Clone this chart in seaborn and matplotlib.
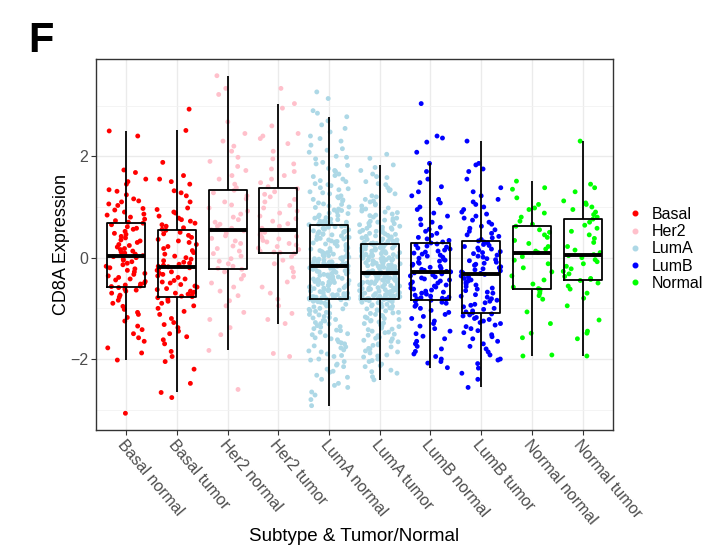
import numpy as np
import pandas as pd
import matplotlib
matplotlib.use("Agg")
import matplotlib.pyplot as plt
from matplotlib.lines import Line2D
import seaborn as sns

groups = ["Basal normal", "Basal tumor", "Her2 normal", "Her2 tumor",
          "LumA normal", "LumA tumor", "LumB normal", "LumB tumor",
          "Normal normal", "Normal tumor"]
subtypes = ["Basal", "Her2", "LumA", "LumB", "Normal"]
colors = ["red", "pink", "lightblue", "blue", "#00FF00"]

# CD8A expression values (approximate)
basal_normal = [
    2.50, 2.40, 1.73, 1.68, 1.55, 1.50, 1.45, 1.34, 1.31, 1.24, 1.16, 1.12,
    1.10, 1.06, 1.03, 0.97, 0.94, 0.90, 0.86, 0.84, 0.80, 0.76, 0.73, 0.70,
    0.68, 0.65, 0.61, 0.58, 0.56, 0.52, 0.48, 0.46, 0.42, 0.39, 0.35, 0.33,
    0.30, 0.26, 0.24, 0.21, 0.18, 0.16, 0.13, 0.11, 0.09, 0.07, 0.05, 0.04,
    0.02, 0.00, -0.03, -0.05, -0.08, -0.11, -0.14, -0.17, -0.20, -0.22, -0.25, -0.28,
    -0.31, -0.33, -0.36, -0.39, -0.42, -0.44, -0.47, -0.50, -0.52, -0.54, -0.56, -0.57,
    -0.59, -0.62, -0.64, -0.66, -0.70, -0.74, -0.78, -0.84, -0.90, -0.96, -1.02, -1.08,
    -1.12, -1.18, -1.25, -1.35, -1.42, -1.50, -1.58, -1.65, -1.78, -1.88, -2.02, -3.07,
]
basal_tumor = [
    2.93, 2.51, 1.88, 1.62, 1.55, 1.50, 1.45, 1.32, 1.28, 1.22, 1.10, 0.98,
    0.95, 0.90, 0.88, 0.82, 0.78, 0.75, 0.72, 0.68, 0.65, 0.62, 0.59, 0.56,
    0.54, 0.50, 0.47, 0.44, 0.40, 0.36, 0.33, 0.30, 0.26, 0.22, 0.18, 0.14,
    0.10, 0.07, 0.03, 0.00, -0.03, -0.06, -0.09, -0.11, -0.13, -0.15, -0.17, -0.18,
    -0.20, -0.22, -0.25, -0.28, -0.31, -0.33, -0.36, -0.39, -0.42, -0.45, -0.48, -0.50,
    -0.53, -0.56, -0.58, -0.61, -0.63, -0.66, -0.68, -0.70, -0.72, -0.74, -0.76, -0.77,
    -0.79, -0.82, -0.86, -0.90, -0.95, -1.00, -1.06, -1.12, -1.20, -1.28, -1.32, -1.38,
    -1.45, -1.50, -1.56, -1.62, -1.70, -1.85, -1.95, -2.05, -2.20, -2.48, -2.66, -2.76,
]
her2_normal = [
    3.59, 3.34, 3.22, 2.68, 2.45, 2.30, 2.20, 2.10,
    1.98, 1.90, 1.80, 1.72, 1.62, 1.55, 1.45, 1.38,
    1.33, 1.28, 1.22, 1.16, 1.10, 1.04, 0.98, 0.92,
    0.86, 0.80, 0.75, 0.70, 0.66, 0.62, 0.58, 0.55,
    0.53, 0.48, 0.43, 0.38, 0.33, 0.28, 0.23, 0.18,
    0.13, 0.08, 0.03, -0.02, -0.07, -0.12, -0.17, -0.21,
    -0.23, -0.28, -0.35, -0.42, -0.50, -0.58, -0.66, -0.75,
    -0.85, -0.95, -1.08, -1.22, -1.38, -1.52, -1.83, -2.60,
]
her2_tumor = [
    3.34, 3.04, 2.95, 2.60, 2.45, 2.40, 2.35, 2.25, 2.10, 1.95, 1.85, 1.75, 1.70, 1.62, 1.55, 1.48, 1.40,
    1.36, 1.30, 1.25, 1.20, 1.15, 1.10, 1.03, 0.98, 0.92, 0.88, 0.82, 0.77, 0.72, 0.67, 0.62, 0.58, 0.55,
    0.53, 0.50, 0.47, 0.45, 0.42, 0.40, 0.37, 0.34, 0.31, 0.28, 0.25, 0.22, 0.19, 0.16, 0.13, 0.11, 0.10,
    0.08, 0.02, -0.05, -0.12, -0.20, -0.28, -0.38, -0.48, -0.58, -0.70, -0.82, -0.95, -1.10, -1.22, -1.30, -1.89, -1.95,
]
luma_normal = [
    3.27, 3.14, 2.90, 2.85, 2.78, 2.62, 2.55, 2.48, 2.40, 2.30,
    2.22, 2.15, 2.08, 2.00, 1.95, 1.88, 1.82, 1.76, 1.70, 1.65,
    1.60, 1.55, 1.50, 1.46, 1.42, 1.38, 1.34, 1.30, 1.26, 1.22,
    1.18, 1.15, 1.12, 1.08, 1.05, 1.02, 0.99, 0.96, 0.93, 0.90,
    0.87, 0.84, 0.81, 0.78, 0.76, 0.73, 0.71, 0.69, 0.67, 0.65,
    2.70, 2.35, 2.12, 1.98, 1.85, 1.72, 1.62, 1.52, 1.44, 1.36,
    1.28, 1.20, 1.14, 1.06, 1.00, 0.94, 0.88, 0.83, 0.79, 0.75,
    0.72, 0.70, 0.68, 0.66, 0.655,
    0.63, 0.62, 0.60, 0.58, 0.57, 0.55, 0.53, 0.52, 0.50, 0.48,
    0.47, 0.45, 0.43, 0.41, 0.40, 0.38, 0.36, 0.35, 0.33, 0.31,
    0.29, 0.28, 0.26, 0.24, 0.22, 0.21, 0.19, 0.17, 0.15, 0.14,
    0.12, 0.10, 0.08, 0.07, 0.05, 0.03, 0.02, 0.00, -0.02, -0.03,
    -0.05, -0.07, -0.08, -0.09, -0.10, -0.11, -0.12, -0.13, -0.14, -0.15,
    0.61, 0.56, 0.51, 0.46, 0.42, 0.37, 0.32, 0.27, 0.23, 0.18,
    0.13, 0.09, 0.04, 0.01, -0.01, -0.04, -0.06, -0.09, -0.11, -0.12,
    -0.13, -0.14, -0.15, -0.15, -0.155,
    -0.17, -0.18, -0.19, -0.20, -0.22, -0.23, -0.24, -0.26, -0.27, -0.28,
    -0.30, -0.31, -0.33, -0.34, -0.35, -0.37, -0.38, -0.40, -0.41, -0.42,
    -0.44, -0.45, -0.47, -0.48, -0.49, -0.51, -0.52, -0.54, -0.55, -0.56,
    -0.58, -0.59, -0.61, -0.62, -0.63, -0.65, -0.66, -0.68, -0.69, -0.70,
    -0.72, -0.73, -0.74, -0.75, -0.76, -0.77, -0.78, -0.79, -0.80, -0.80,
    -0.165, -0.21, -0.25, -0.29, -0.32, -0.36, -0.39, -0.43, -0.46, -0.50,
    -0.53, -0.57, -0.60, -0.64, -0.67, -0.71, -0.73, -0.75, -0.76, -0.77,
    -0.78, -0.79, -0.80, -0.805, -0.805,
    -0.82, -0.84, -0.86, -0.88, -0.90, -0.92, -0.95, -0.97, -1.00, -1.02,
    -1.05, -1.08, -1.10, -1.13, -1.16, -1.19, -1.22, -1.25, -1.28, -1.31,
    -1.34, -1.37, -1.40, -1.44, -1.47, -1.50, -1.54, -1.58, -1.62, -1.66,
    -1.70, -1.74, -1.78, -1.82, -1.86, -1.90, -1.95, -2.00, -2.05, -2.10,
    -2.15, -2.20, -2.26, -2.32, -2.40, -2.48, -2.56, -2.71, -2.80, -2.92,
    -0.815, -0.83, -0.87, -0.91, -0.96, -1.01, -1.06, -1.12, -1.18, -1.24,
    -1.30, -1.36, -1.43, -1.52, -1.60, -1.68, -1.76, -1.84, -1.93, -2.02,
    -2.12, -2.24, -2.36, -2.52, -2.65,
]
luma_tumor = [
    2.04, 1.96, 1.83, 1.72, 1.65, 1.58, 1.50, 1.44, 1.38, 1.32,
    1.26, 1.20, 1.15, 1.10, 1.06, 1.02, 0.98, 0.95, 0.92, 0.89,
    0.86, 0.83, 0.80, 0.77, 0.74, 0.72, 0.70, 0.67, 0.65, 0.62,
    0.60, 0.58, 0.56, 0.54, 0.52, 0.50, 0.48, 0.46, 0.44, 0.42,
    0.40, 0.39, 0.37, 0.36, 0.34, 0.33, 0.31, 0.30, 0.29, 0.28,
    1.78, 1.60, 1.46, 1.34, 1.22, 1.12, 1.04, 0.96, 0.90, 0.84,
    0.78, 0.73, 0.68, 0.63, 0.59, 0.55, 0.51, 0.47, 0.43, 0.41,
    0.38, 0.35, 0.32, 0.30, 0.28,
    0.26, 0.25, 0.24, 0.23, 0.22, 0.20, 0.19, 0.18, 0.17, 0.16,
    0.14, 0.13, 0.12, 0.11, 0.10, 0.08, 0.07, 0.06, 0.05, 0.04,
    0.02, 0.01, 0.00, -0.01, -0.02, -0.04, -0.05, -0.06, -0.07, -0.08,
    -0.10, -0.11, -0.12, -0.13, -0.14, -0.16, -0.17, -0.18, -0.19, -0.20,
    -0.22, -0.23, -0.24, -0.25, -0.26, -0.27, -0.28, -0.29, -0.30, -0.30,
    0.265, 0.23, 0.21, 0.185, 0.15, 0.125, 0.09, 0.065, 0.03, 0.00,
    -0.03, -0.055, -0.09, -0.115, -0.15, -0.175, -0.21, -0.235, -0.26, -0.28,
    -0.29, -0.295, -0.30, -0.305, -0.305,
    -0.32, -0.33, -0.34, -0.35, -0.36, -0.37, -0.38, -0.39, -0.40, -0.41,
    -0.42, -0.44, -0.45, -0.46, -0.47, -0.48, -0.49, -0.50, -0.51, -0.52,
    -0.53, -0.54, -0.55, -0.56, -0.57, -0.59, -0.60, -0.61, -0.62, -0.63,
    -0.64, -0.65, -0.66, -0.67, -0.68, -0.70, -0.71, -0.72, -0.73, -0.74,
    -0.75, -0.76, -0.77, -0.78, -0.78, -0.79, -0.80, -0.80, -0.81, -0.81,
    -0.315, -0.33, -0.36, -0.39, -0.42, -0.45, -0.48, -0.51, -0.54, -0.57,
    -0.60, -0.63, -0.66, -0.69, -0.71, -0.73, -0.75, -0.76, -0.77, -0.78,
    -0.79, -0.80, -0.81, -0.815, -0.815,
    -0.83, -0.85, -0.87, -0.89, -0.91, -0.93, -0.95, -0.97, -0.99, -1.01,
    -1.03, -1.05, -1.08, -1.10, -1.12, -1.15, -1.17, -1.20, -1.22, -1.25,
    -1.27, -1.30, -1.33, -1.36, -1.39, -1.42, -1.45, -1.48, -1.51, -1.54,
    -1.57, -1.60, -1.63, -1.66, -1.70, -1.73, -1.76, -1.80, -1.84, -1.88,
    -1.92, -1.96, -2.00, -2.05, -2.10, -2.15, -2.22, -2.28, -2.35, -2.41,
    -0.825, -0.84, -0.88, -0.92, -0.96, -1.00, -1.04, -1.09, -1.14, -1.19,
    -1.24, -1.29, -1.35, -1.41, -1.47, -1.53, -1.59, -1.65, -1.72, -1.79,
    -1.86, -1.94, -2.03, -2.13, -2.25,
]
lumb_normal = [
    3.04, 2.40, 2.36, 2.28, 2.08, 1.86, 1.70, 1.55, 1.48, 1.40,
    1.30, 1.22, 1.15, 1.08, 1.00, 0.95, 0.88, 0.82, 0.76, 0.70,
    0.65, 0.60, 0.56, 0.52, 0.48, 0.44, 0.40, 0.37, 0.34, 0.31,
    0.29, 0.27, 0.25, 0.23, 0.21, 0.19, 0.17, 0.15, 0.13, 0.11,
    0.09, 0.07, 0.05, 0.03, 0.01, -0.01, -0.03, -0.05, -0.07, -0.09,
    -0.11, -0.13, -0.15, -0.17, -0.19, -0.21, -0.23, -0.25, -0.27, -0.28,
    -0.30, -0.32, -0.34, -0.36, -0.38, -0.40, -0.42, -0.44, -0.46, -0.48,
    -0.50, -0.52, -0.54, -0.56, -0.58, -0.60, -0.62, -0.64, -0.66, -0.68,
    -0.70, -0.72, -0.74, -0.76, -0.78, -0.79, -0.80, -0.81, -0.82, -0.84,
    -0.86, -0.88, -0.90, -0.93, -0.96, -1.00, -1.04, -1.08, -1.12, -1.16,
    -1.20, -1.25, -1.30, -1.35, -1.40, -1.45, -1.50, -1.55, -1.60, -1.65,
    -1.70, -1.75, -1.80, -1.85, -1.90, -1.95, -2.00, -2.05, -2.08, -2.17,
]
lumb_tumor = [
    2.30, 1.86, 1.83, 1.75, 1.70, 1.55, 1.38, 1.30, 1.22, 1.15,
    1.10, 1.05, 1.00, 0.95, 0.90, 0.86, 0.82, 0.78, 0.74, 0.70,
    0.66, 0.62, 0.58, 0.55, 0.52, 0.48, 0.45, 0.42, 0.39, 0.36,
    0.33, 0.31, 0.29, 0.26, 0.24, 0.22, 0.19, 0.17, 0.15, 0.12,
    0.10, 0.08, 0.05, 0.03, 0.01, -0.02, -0.04, -0.06, -0.09, -0.11,
    -0.13, -0.15, -0.18, -0.20, -0.22, -0.24, -0.26, -0.28, -0.30, -0.31,
    -0.33, -0.36, -0.38, -0.41, -0.44, -0.46, -0.49, -0.52, -0.54, -0.57,
    -0.60, -0.62, -0.65, -0.68, -0.70, -0.73, -0.76, -0.78, -0.81, -0.84,
    -0.86, -0.89, -0.92, -0.94, -0.97, -1.00, -1.02, -1.05, -1.07, -1.09,
    -1.11, -1.13, -1.15, -1.18, -1.20, -1.22, -1.25, -1.28, -1.30, -1.33,
    -1.36, -1.40, -1.44, -1.48, -1.52, -1.56, -1.60, -1.65, -1.70, -1.75,
    -1.80, -1.86, -1.92, -2.00, -2.02, -2.09, -2.18, -2.28, -2.40, -2.56,
]
normal_normal = [
    1.51, 1.38, 1.35, 1.18, 1.05, 0.98, 0.95, 0.88, 0.80, 0.72, 0.66,
    0.62, 0.55, 0.50, 0.45, 0.40, 0.34, 0.28, 0.22, 0.17, 0.13, 0.10,
    0.08, 0.02, -0.05, -0.12, -0.20, -0.28, -0.36, -0.44, -0.52, -0.58, -0.61,
    -0.63, -0.66, -0.70, -0.75, -0.82, -1.07, -1.30, -1.49, -1.58, -1.92, -1.94,
]
normal_tumor = [
    2.30, 1.45, 1.38, 1.30, 1.12, 1.08, 1.05, 1.00, 0.95, 0.90, 0.85, 0.80,
    0.76, 0.70, 0.64, 0.58, 0.52, 0.45, 0.38, 0.30, 0.22, 0.15, 0.10, 0.06,
    0.04, 0.00, -0.04, -0.08, -0.12, -0.17, -0.22, -0.27, -0.32, -0.37, -0.41, -0.43,
    -0.45, -0.50, -0.56, -0.62, -0.70, -0.80, -0.95, -1.23, -1.45, -1.49, -1.60, -1.94,
]

values = [basal_normal, basal_tumor, her2_normal, her2_tumor, luma_normal,
          luma_tumor, lumb_normal, lumb_tumor, normal_normal, normal_tumor]

frames = []
for g, v in zip(groups, values):
    frames.append(pd.DataFrame({"group": g, "subtype": g.split()[0], "value": v}))
df = pd.concat(frames, ignore_index=True)

plt.rcParams['font.family'] = ['Liberation Sans', 'DejaVu Sans']
np.random.seed(7)

fig = plt.figure(figsize=(7.12, 5.58), dpi=100)
ax = fig.add_axes([0.1348, 0.2294, 0.7261, 0.6649])

palette = dict(zip(subtypes, colors))
sns.stripplot(data=df, x="group", y="value", hue="subtype", order=groups,
              hue_order=subtypes, palette=palette, jitter=0.4, size=3.5,
              linewidth=0, legend=False, ax=ax, zorder=1)
sns.boxplot(data=df, x="group", y="value", order=groups, fill=False,
            color="black", width=0.75, showfliers=False, showcaps=False,
            linewidth=1.3, medianprops=dict(linewidth=2.8), ax=ax)
for ln in ax.lines:
    ln.set_zorder(3)
for p in ax.patches:
    p.set_zorder(3)

ax.set_xlim(-0.6, 9.6)
ax.set_ylim(-3.40, 3.92)
ax.set_yticks([-2, 0, 2])
ax.set_yticks([-3, -1, 1, 3], minor=True)
ax.grid(which='major', axis='both', color='#EBEBEB', lw=1.0)
ax.grid(which='minor', axis='y', color='#F2F2F2', lw=0.6)
ax.set_axisbelow(True)
ax.tick_params(which='minor', length=0)
ax.tick_params(which='major', length=3.5, width=0.8, color='#333333',
               labelcolor='#4D4D4D', labelsize=11.5, pad=2)
for s in ax.spines.values():
    s.set_color('#333333')
    s.set_linewidth(1.0)

for lab in ax.get_xticklabels():
    lab.set_rotation(-50)
    lab.set_ha('left')
    lab.set_va('top')
    lab.set_rotation_mode('anchor')

ax.set_xlabel("Subtype & Tumor/Normal", fontsize=13.5)
ax.set_ylabel("CD8A Expression", fontsize=13)
ax.xaxis.set_label_coords(0.5, -0.264)
ax.yaxis.set_label_coords(-0.05, 0.5)

handles = [Line2D([], [], marker='o', ls='', color=c, markersize=3.3, label=s)
           for s, c in zip(subtypes, colors)]
fig.legend(handles=handles, loc='upper left', bbox_to_anchor=(0.8834, 0.629),
           frameon=False, fontsize=11.5, handlelength=0.8, handletextpad=0.6,
           labelspacing=0.14, borderpad=0, borderaxespad=0)

fig.text(28 / 712, 1 - 52 / 558, "F", fontsize=30, fontweight='bold',
         va='baseline', ha='left')

fig.savefig("out.png", dpi=100)
